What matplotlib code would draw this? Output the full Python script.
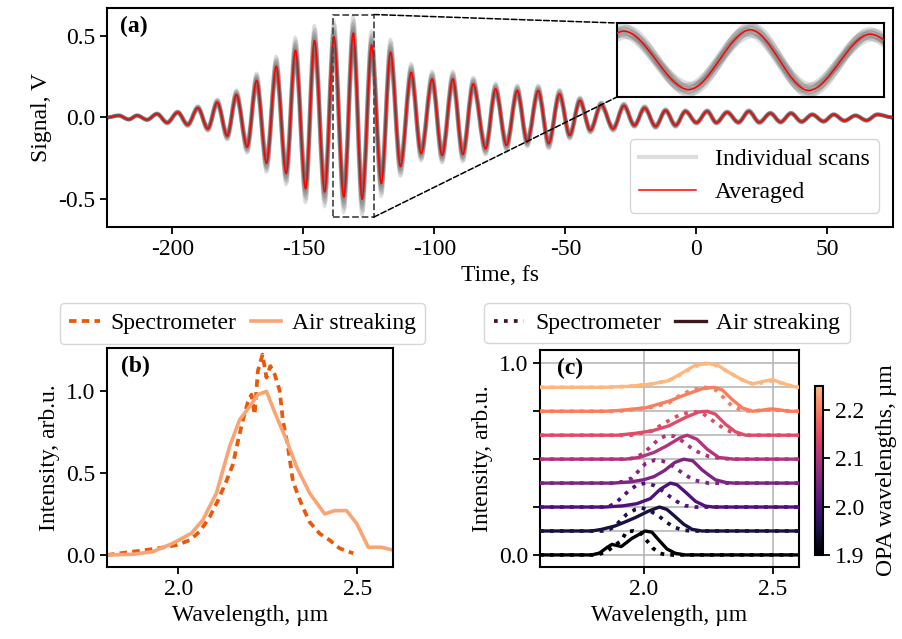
import numpy as np
import matplotlib
matplotlib.use("Agg")
import matplotlib.pyplot as plt
from matplotlib.path import Path
from matplotlib.patches import PathPatch, Rectangle, ConnectionPatch
from matplotlib.lines import Line2D
from matplotlib.colors import Normalize, ListedColormap
from matplotlib.cm import ScalarMappable

plt.rcParams["font.family"] = "serif"
plt.rcParams["font.serif"] = ["Liberation Serif", "DejaVu Serif"]
plt.rcParams["font.size"] = 17
plt.rcParams["axes.unicode_minus"] = False
plt.rcParams["axes.linewidth"] = 1.5
plt.rcParams["xtick.major.width"] = 1.3
plt.rcParams["ytick.major.width"] = 1.3
plt.rcParams["xtick.major.size"] = 5
plt.rcParams["ytick.major.size"] = 5

# (a) streaking trace: extrema of the averaged signal (time in fs, signal in V)
sig_t = np.array([-225, -220.5, -216.7, -213.5, -209.7, -205.9, -202.0, -198.0, -194.2, -190.3,
                  -186.5, -182.9, -179.1, -175.6, -171.5, -167.9, -164.1, -160.4, -156.6, -153.1,
                  -149.2, -145.8, -141.9, -138.4, -134.6, -131.0, -127.6, -124.0, -120.3, -116.8,
                  -113.0, -108.9, -105.1, -100.9, -97.1, -93.0, -89.2, -85.2, -80.5, -76.7,
                  -72.5, -68.4, -64.6, -60.4, -56.4, -52.3, -48.4, -44.5, -40.5, -36.4,
                  -31.8, -27.7, -23.7, -19.8, -15.6, -11.8, -8.0, -4.2, 0.0, 4.1,
                  7.6, 11.7, 16.0, 20.0, 24.0, 28.2, 32.1, 36.1, 40.1, 44.2,
                  48.5, 52.4, 56.5, 60.7, 64.9, 69.0, 75.0])
sig_v = np.array([0.0, 0.012, -0.012, 0.012, -0.014, 0.022, -0.032, 0.032, -0.045, 0.059,
                  -0.069, 0.093, -0.114, 0.14, -0.181, 0.226, -0.28, 0.313, -0.343, 0.41,
                  -0.435, 0.47, -0.455, 0.494, -0.486, 0.516, -0.5, 0.443, -0.404, 0.40,
                  -0.30, 0.276, -0.221, 0.236, -0.232, 0.236, -0.226, 0.205, -0.191, 0.175,
                  -0.171, 0.165, -0.15, 0.165, -0.16, 0.144, -0.11, 0.104, -0.079, 0.079,
                  -0.069, 0.073, -0.049, 0.059, -0.055, 0.043, -0.049, 0.038, -0.032, 0.038,
                  -0.032, 0.032, -0.03, 0.038, -0.03, 0.026, -0.028, 0.026, -0.026, 0.018,
                  -0.024, 0.018, -0.02, 0.012, -0.018, 0.018, 0.0])
# spread of the individual scans around the average (gain, time shift in fs)
scan_gain = [0.8, 0.85, 0.9, 0.94, 0.98, 1.02, 1.06, 1.1, 1.14, 1.19]
scan_shift = [0.15, -0.2, 0.1, -0.1, 0.25, -0.25, 0.05, -0.15, 0.2, -0.05]
zoom_t = (-138.8, -123.2)
zoom_v = (-0.61, 0.63)

# (b) spectrum at one OPA setting
spec_lam_b = [1.80, 1.86, 1.90, 1.947, 1.994, 2.031, 2.059, 2.087, 2.11, 2.134, 2.152, 2.166,
              2.18, 2.194, 2.204, 2.213, 2.222, 2.235, 2.246, 2.257, 2.269, 2.283, 2.292, 2.306,
              2.32, 2.335, 2.348, 2.367, 2.395, 2.423, 2.451, 2.489]
spec_int_b = [0.0, 0.017, 0.028, 0.042, 0.06, 0.09, 0.142, 0.23, 0.33, 0.45, 0.55, 0.69,
              0.82, 0.93, 0.976, 0.854, 1.12, 1.22, 1.08, 1.15, 1.1, 1.0, 0.82, 0.66,
              0.45, 0.36, 0.29, 0.2, 0.13, 0.09, 0.04, 0.01]
air_lam_b = [1.80, 1.872, 1.928, 1.984, 2.036, 2.068, 2.106, 2.143, 2.171, 2.199, 2.222, 2.246,
             2.274, 2.302, 2.33, 2.367, 2.409, 2.437, 2.47, 2.498, 2.531, 2.568, 2.60]
air_int_b = [0.0, 0.004, 0.02, 0.071, 0.132, 0.213, 0.376, 0.66, 0.823, 0.904, 0.976, 0.996,
             0.843, 0.70, 0.538, 0.376, 0.25, 0.27, 0.27, 0.193, 0.047, 0.047, 0.03]

# (c) spectra for several OPA wavelengths (normalised, stacked)
opa_wl = [1.90, 1.95, 2.00, 2.05, 2.10, 2.15, 2.20, 2.25]
c_air_lam = [
    [1.60, 1.80, 1.83, 1.86, 1.878, 1.914, 1.955, 2.006, 2.032, 2.058, 2.09, 2.122, 2.16, 2.60],
    [1.60, 1.80, 1.839, 1.89, 1.929, 1.968, 2.019, 2.061, 2.09, 2.122, 2.155, 2.187, 2.225, 2.60],
    [1.60, 1.85, 1.92, 1.974, 2.026, 2.064, 2.103, 2.129, 2.161, 2.2, 2.238, 2.27, 2.60],
    [1.60, 1.88, 1.95, 2.0, 2.04, 2.08, 2.12, 2.155, 2.19, 2.226, 2.25, 2.277, 2.32, 2.35, 2.60],
    [1.60, 1.93, 1.982, 2.04, 2.09, 2.142, 2.168, 2.206, 2.245, 2.29, 2.348, 2.60],
    [1.60, 1.90, 1.968, 2.032, 2.097, 2.161, 2.213, 2.245, 2.277, 2.316, 2.355, 2.394, 2.60],
    [1.60, 1.85, 1.90, 2.006, 2.097, 2.161, 2.226, 2.271, 2.303, 2.342, 2.381, 2.42, 2.46,
     2.497, 2.53, 2.56, 2.60],
    [1.60, 1.84, 1.942, 2.032, 2.097, 2.148, 2.2, 2.251, 2.29, 2.329, 2.381, 2.42, 2.458,
     2.497, 2.535, 2.574, 2.60],
]
c_air_int = [
    [0, 0, 0.08, 0.32, 0.44, 0.35, 0.69, 1.0, 0.95, 0.63, 0.25, 0.07, 0, 0],
    [0, 0, 0.07, 0.21, 0.38, 0.56, 0.83, 1.0, 0.9, 0.6, 0.28, 0.07, 0, 0],
    [0, 0, 0.05, 0.14, 0.35, 0.74, 1.0, 0.93, 0.63, 0.24, 0.04, 0, 0],
    [0, 0, 0.05, 0.14, 0.27, 0.52, 0.86, 1.0, 0.93, 0.55, 0.35, 0.14, 0.02, 0, 0],
    [0, 0, 0.07, 0.28, 0.56, 0.9, 1.0, 0.83, 0.42, 0.07, 0, 0],
    [0, 0, 0.08, 0.18, 0.39, 0.74, 0.97, 1.0, 0.88, 0.46, 0.14, 0, 0],
    [0, 0, 0.03, 0.14, 0.42, 0.69, 0.94, 1.0, 0.9, 0.49, 0.14, 0.0, 0.05, 0.1, 0.05, 0, 0],
    [0, 0, 0.04, 0.14, 0.28, 0.6, 0.93, 1.0, 0.9, 0.63, 0.31, 0.14, 0.24, 0.32, 0.18, 0.04, 0],
]
c_spec_lam = [
    [1.60, 1.82, 1.86, 1.89, 1.913, 1.934, 1.96, 1.99, 2.01, 2.036, 2.062, 2.088, 2.12, 2.60],
    [1.60, 1.84, 1.87, 1.89, 1.909, 1.934, 1.968, 1.993, 2.026, 2.058, 2.09, 2.122, 2.155, 2.19, 2.60],
    [1.60, 1.86, 1.89, 1.92, 1.95, 1.98, 2.01, 2.04, 2.07, 2.10, 2.13, 2.16, 2.20, 2.60],
    [1.60, 1.88, 1.92, 1.955, 1.98, 2.006, 2.045, 2.07, 2.097, 2.12, 2.148, 2.175, 2.2, 2.25, 2.60],
    [1.60, 1.94, 1.97, 2.0, 2.03, 2.06, 2.09, 2.12, 2.15, 2.18, 2.21, 2.25, 2.30, 2.35, 2.60],
    [1.60, 1.95, 2.032, 2.084, 2.135, 2.181, 2.22, 2.251, 2.284, 2.32, 2.36, 2.40, 2.60],
    [1.60, 1.90, 2.032, 2.097, 2.135, 2.187, 2.238, 2.277, 2.31, 2.342, 2.381, 2.42, 2.46,
     2.497, 2.53, 2.60],
    [1.60, 1.86, 1.95, 2.04, 2.10, 2.148, 2.2, 2.238, 2.277, 2.329, 2.38, 2.42, 2.47, 2.50,
     2.54, 2.58, 2.60],
]
c_spec_int = [
    [0, 0, 0.15, 0.42, 0.58, 0.97, 1.0, 0.9, 0.63, 0.28, 0.07, 0.0, 0, 0],
    [0, 0, 0.08, 0.2, 0.42, 0.69, 0.9, 0.97, 0.83, 0.63, 0.35, 0.14, 0.03, 0, 0],
    [0, 0, 0.15, 0.45, 0.75, 0.95, 1.0, 0.9, 0.7, 0.45, 0.22, 0.06, 0, 0],
    [0, 0, 0.06, 0.21, 0.5, 0.8, 0.97, 0.93, 0.83, 0.65, 0.44, 0.25, 0.11, 0, 0],
    [0, 0, 0.07, 0.25, 0.55, 0.85, 1.0, 0.95, 0.75, 0.5, 0.3, 0.12, 0.03, 0, 0],
    [0, 0, 0.18, 0.53, 0.83, 0.97, 0.97, 0.74, 0.46, 0.22, 0.04, 0, 0],
    [0, 0, 0.17, 0.35, 0.63, 0.9, 1.0, 0.9, 0.56, 0.21, 0.04, 0, 0.05, 0.08, 0.03, 0],
    [0, 0, 0.05, 0.15, 0.3, 0.56, 0.88, 1.0, 0.93, 0.63, 0.31, 0.15, 0.2, 0.28, 0.15, 0.03, 0],
]
stack_step = 0.125


def wave_path(t, v):
    # smooth curve through the extrema, horizontal tangent at each one
    verts = [(t[0], v[0])]
    codes = [Path.MOVETO]
    for i in range(len(t) - 1):
        d = (t[i + 1] - t[i]) / 3
        verts += [(t[i] + d, v[i]), (t[i + 1] - d, v[i + 1]), (t[i + 1], v[i + 1])]
        codes += [Path.CURVE4] * 3
    return Path(verts, codes)


fig = plt.figure(figsize=(9.02, 6.39), dpi=100)
ax_a = fig.add_axes([0.1186, 0.6448, 0.8714, 0.3427])
ax_in = fig.add_axes([0.684, 0.8482, 0.296, 0.1158])
ax_b = fig.add_axes([0.1186, 0.1127, 0.3171, 0.3427])
ax_c = fig.add_axes([0.5987, 0.1127, 0.2871, 0.3396])
cax = fig.add_axes([0.9035, 0.1315, 0.0094, 0.2645])

# ---- (a)
scan_col = "0.35"
for g, s in zip(scan_gain, scan_shift):
    ax_a.add_patch(PathPatch(wave_path(sig_t + s, sig_v * g), fill=False,
                             ec=scan_col, alpha=0.2, lw=2.6))
    ax_in.add_patch(PathPatch(wave_path(sig_t + s, sig_v * g), fill=False,
                              ec=scan_col, alpha=0.2, lw=3))
ax_a.add_patch(PathPatch(wave_path(sig_t, sig_v), fill=False, ec="red", lw=1.1, zorder=3))
ax_in.add_patch(PathPatch(wave_path(sig_t, sig_v), fill=False, ec="red", lw=1.1, zorder=3))

ax_a.set_xlim(-225, 75)
ax_a.set_ylim(-0.67, 0.67)
ax_a.set_xticks([-200, -150, -100, -50, 0, 50])
ax_a.set_yticks([-0.5, 0.0, 0.5])
ax_a.set_xlabel("Time, fs")
ax_a.set_ylabel("Signal, V")
ax_a.text(0.017, 0.965, "(a)", transform=ax_a.transAxes, va="top", fontweight="bold")

ax_in.set_xlim(*zoom_t)
ax_in.set_ylim(*zoom_v)
ax_in.set_xticks([])
ax_in.set_yticks([])

ax_a.add_patch(Rectangle((zoom_t[0], zoom_v[0]), zoom_t[1] - zoom_t[0], zoom_v[1] - zoom_v[0],
                         fill=False, ls="--", ec="0.3", lw=1.3, zorder=5))
for yv, corner in ((zoom_v[1], (0, 1)), (zoom_v[0], (0, 0))):
    con = ConnectionPatch(xyA=(zoom_t[1], yv), coordsA=ax_a.transData,
                          xyB=corner, coordsB=ax_in.transAxes,
                          ls="--", color="k", lw=1.1, zorder=5)
    fig.add_artist(con)

h_scan = Line2D([], [], color=scan_col, alpha=0.2, lw=3)
h_avg = Line2D([], [], color="red", lw=1.1)
ax_a.legend([h_scan, h_avg], ["Individual scans", "Averaged"], loc="lower right",
            handlelength=2.4, borderaxespad=0.6)

# ---- (b)
spec_col = "#e8590c"
air_col = "#f9a474"
ax_b.plot(spec_lam_b, spec_int_b, color=spec_col, lw=2.7, dashes=(2, 1.4), label="Spectrometer")
ax_b.plot(air_lam_b, air_int_b, color=air_col, lw=2.6, label="Air streaking")
ax_b.set_xlim(1.8, 2.6)
ax_b.set_ylim(-0.073, 1.26)
ax_b.set_xticks([2.0, 2.5])
ax_b.set_yticks([0.0, 0.5, 1.0])
ax_b.set_xlabel("Wavelength, µm")
ax_b.set_ylabel("Intensity, arb.u.")
ax_b.text(0.05, 0.965, "(b)", transform=ax_b.transAxes, va="top", fontweight="bold")
ax_b.legend(loc="lower center", bbox_to_anchor=(0.474, 1.02), ncol=2, borderaxespad=0,
            handlelength=1.3, handletextpad=0.45, columnspacing=0.6)

# ---- (c)
cmap = ListedColormap(plt.get_cmap("magma")(np.linspace(0, 0.85, 256)))
norm = Normalize(1.9, 2.25)
for k, wl in enumerate(opa_wl):
    col = cmap(norm(wl))
    base = k * stack_step
    ax_c.plot(c_air_lam[k], base + stack_step * np.array(c_air_int[k]), color=col, lw=2.4, zorder=3)
    ax_c.plot(c_spec_lam[k], base + stack_step * np.array(c_spec_int[k]), color=col, lw=2.7,
              ls=":", zorder=3)
ax_c.set_xlim(1.6, 2.6)
ax_c.set_ylim(-0.063, 1.07)
ax_c.set_xticks([2.0, 2.5])
ax_c.set_yticks([0.0, 0.25, 0.5, 0.75, 1.0])
ax_c.set_yticklabels(["0.0", "", "", "", "1.0"])
ax_c.set_yticks(np.arange(0, 1.01, stack_step), minor=True)
ax_c.tick_params(axis="y", which="minor", length=0)
ax_c.grid(axis="y", which="both", color="0.72", lw=1.2, zorder=0)
ax_c.grid(axis="x", which="major", color="0.72", lw=1.2, zorder=0)
ax_c.set_axisbelow(True)
ax_c.set_xlabel("Wavelength, µm")
ax_c.set_ylabel("Intensity, arb.u.")
ax_c.text(0.064, 0.965, "(c)", transform=ax_c.transAxes, va="top", fontweight="bold")
leg_col = "#3a1a1e"
h_sp = Line2D([], [], color=leg_col, lw=2.7, ls=":")
h_ai = Line2D([], [], color=leg_col, lw=2.4)
ax_c.legend([h_sp, h_ai], ["Spectrometer", "Air streaking"], loc="lower center",
            bbox_to_anchor=(0.49, 1.03), ncol=2, borderaxespad=0,
            handlelength=1.3, handletextpad=0.45, columnspacing=0.6)

cb = fig.colorbar(ScalarMappable(norm=norm, cmap=cmap), cax=cax)
cb.set_ticks([1.9, 2.0, 2.1, 2.2])
cb.set_ticklabels(["1.9", "2.0", "2.1", "2.2"])
cb.outline.set_linewidth(1.5)
cb.set_label("OPA wavelengths, µm", labelpad=8)

fig.savefig("out.png", dpi=100, facecolor="white")
